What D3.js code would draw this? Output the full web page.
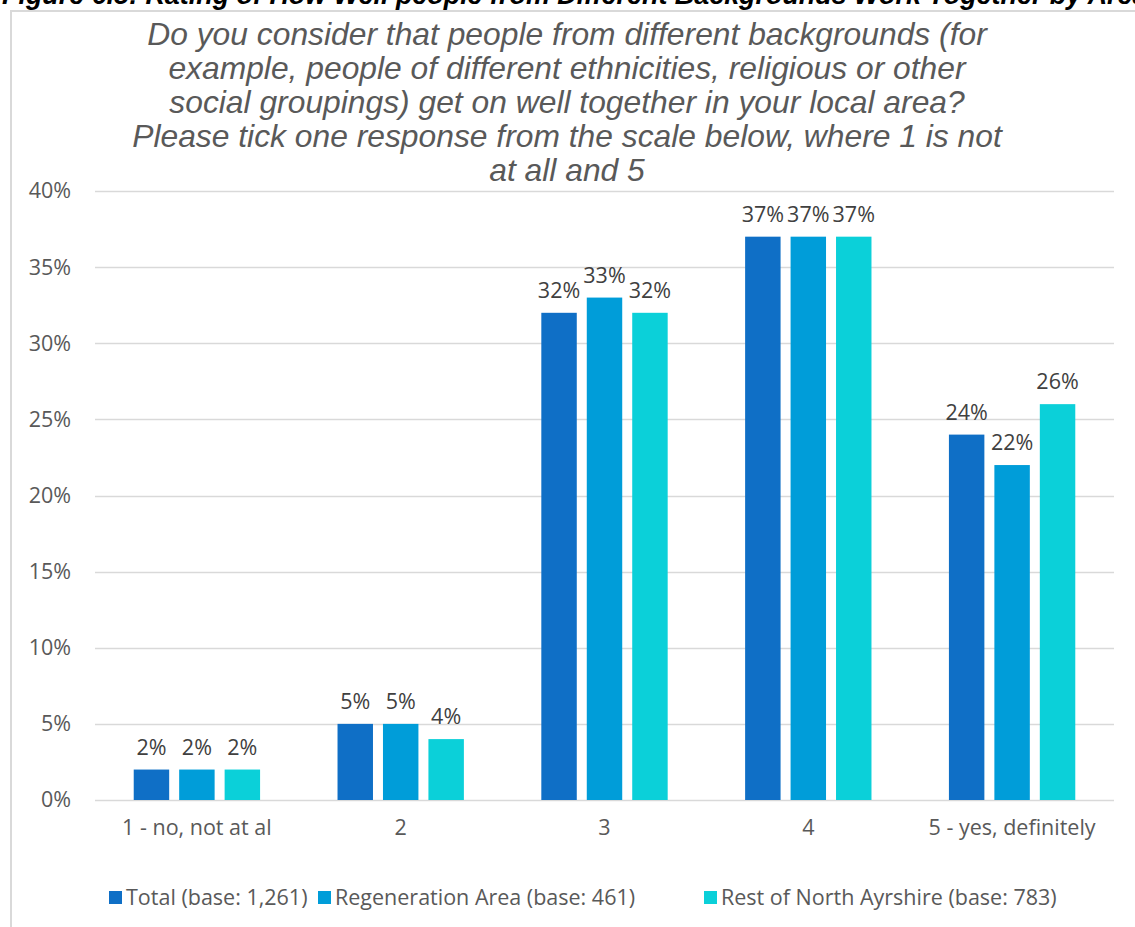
<!DOCTYPE html>
<html>
<head>
<meta charset="utf-8">
<script src="https://cdn.jsdelivr.net/npm/d3@7"></script>
<style>
  html, body { margin: 0; padding: 0; background: #fff; }
  svg { display: block; }
</style>
</head>
<body>
<svg id="chart" width="1135" height="927"></svg>
<script>
// Response scale categories
const categories = ["1 - no, not at al", "2", "3", "4", "5 - yes, definitely"];
// Series (percent of respondents)
const seriesNames = ["Total (base: 1,261)", "Regeneration Area (base: 461)", "Rest of North Ayrshire (base: 783)"];
const totalValues = [2, 5, 32, 37, 24];
const regenerationValues = [2, 5, 33, 37, 22];
const restValues = [2, 4, 32, 37, 26];
const seriesColors = ["#0F6FC6", "#009DD9", "#0BD0D9"];
const yTicks = [0, 5, 10, 15, 20, 25, 30, 35, 40];

const heading = "Figure 6.5: Rating of How Well people from Different Backgrounds Work Together by Area";
const questionLines = [
  "Do you consider that people from different backgrounds (for",
  "example, people of different ethnicities, religious or other",
  "social groupings) get on well together in your local area?",
  "Please tick one response from the scale below, where 1 is not",
  "at all and 5"
];

const seriesValues = [totalValues, regenerationValues, restValues];
const rows = categories.map((c, i) => ({
  category: c,
  values: seriesValues.map((vals, s) => ({ series: s, value: vals[i] }))
}));

const svg = d3.select("#chart");
const labelFont = "'Open Sans', Lato, sans-serif";
const labelSize = 21.5;

// Page heading (runs off the top edge)
svg.append("text")
  .attr("x", 2).attr("y", 4)
  .attr("font-family", "'Liberation Sans', Arial, sans-serif")
  .attr("font-weight", "bold").attr("font-style", "italic")
  .attr("font-size", 26.9)
  .attr("fill", "#000")
  .text(heading);

// Chart frame
svg.append("rect")
  .attr("x", 11).attr("y", 11)
  .attr("width", 1200).attr("height", 1000)
  .attr("fill", "#fff")
  .attr("stroke", "#d9d9d9").attr("stroke-width", 2);

// Question title
svg.append("g")
  .selectAll("text")
  .data(questionLines)
  .join("text")
  .attr("x", 567)
  .attr("y", (d, i) => 45 + i * 34)
  .attr("text-anchor", "middle")
  .attr("font-family", "'Liberation Sans', Arial, sans-serif")
  .attr("font-style", "italic")
  .attr("font-size", 31.8)
  .attr("fill", "#595959")
  .text(d => d);

const plot = { left: 95, right: 1114, top: 191, bottom: 800 };

const x0 = d3.scaleBand()
  .domain(categories)
  .range([plot.left, plot.right])
  .paddingInner(0.38)
  .paddingOuter(0.19);

const x1 = d3.scaleBand()
  .domain([0, 1, 2])
  .range([0, x0.bandwidth()])
  .paddingInner(0.22);

const y = d3.scaleLinear()
  .domain([0, 40])
  .range([plot.bottom, plot.top]);

// Gridlines
svg.append("g")
  .selectAll("line")
  .data(yTicks)
  .join("line")
  .attr("x1", plot.left).attr("x2", plot.right)
  .attr("y1", d => Math.round(y(d)) + 0.5).attr("y2", d => Math.round(y(d)) + 0.5)
  .attr("stroke", "#d9d9d9").attr("stroke-width", 1.5);

// Y axis labels
const yAxis = d3.axisLeft(y).tickValues(yTicks).tickFormat(d => d + "%").tickSize(0).tickPadding(0);
const yg = svg.append("g").attr("transform", `translate(71,0)`).call(yAxis);
yg.select(".domain").remove();
yg.selectAll("text")
  .attr("font-family", labelFont).attr("font-size", labelSize)
  .attr("fill", "#595959");

// X axis labels
const xAxis = d3.axisBottom(x0).tickSize(0).tickPadding(0);
const xg = svg.append("g").attr("transform", `translate(0,${plot.bottom + 20})`).call(xAxis);
xg.select(".domain").remove();
xg.selectAll("text")
  .attr("font-family", labelFont).attr("font-size", labelSize)
  .attr("fill", "#595959");

// Bars
const groups = svg.append("g")
  .selectAll("g")
  .data(rows)
  .join("g")
  .attr("transform", d => `translate(${x0(d.category)},0)`);

groups.selectAll("rect")
  .data(d => d.values)
  .join("rect")
  .attr("x", d => x1(d.series))
  .attr("width", x1.bandwidth())
  .attr("y", d => y(d.value))
  .attr("height", d => y(0) - y(d.value))
  .attr("fill", d => seriesColors[d.series]);

// Value labels
groups.selectAll("text")
  .data(d => d.values)
  .join("text")
  .attr("x", d => x1(d.series) + x1.bandwidth() / 2)
  .attr("y", d => y(d.value) - 15)
  .attr("text-anchor", "middle")
  .attr("font-family", labelFont).attr("font-size", labelSize)
  .attr("fill", "#404040")
  .text(d => d.value + "%");

// Legend
const legendX = [109, 318, 704];
const legend = svg.append("g")
  .selectAll("g")
  .data(seriesNames)
  .join("g")
  .attr("transform", (d, i) => `translate(${legendX[i]},891)`);
legend.append("rect")
  .attr("width", 13).attr("height", 13)
  .attr("fill", (d, i) => seriesColors[i]);
legend.append("text")
  .attr("x", 17).attr("y", 14)
  .attr("font-family", labelFont).attr("font-size", labelSize)
  .attr("fill", "#595959")
  .text(d => d);
</script>
</body>
</html>
